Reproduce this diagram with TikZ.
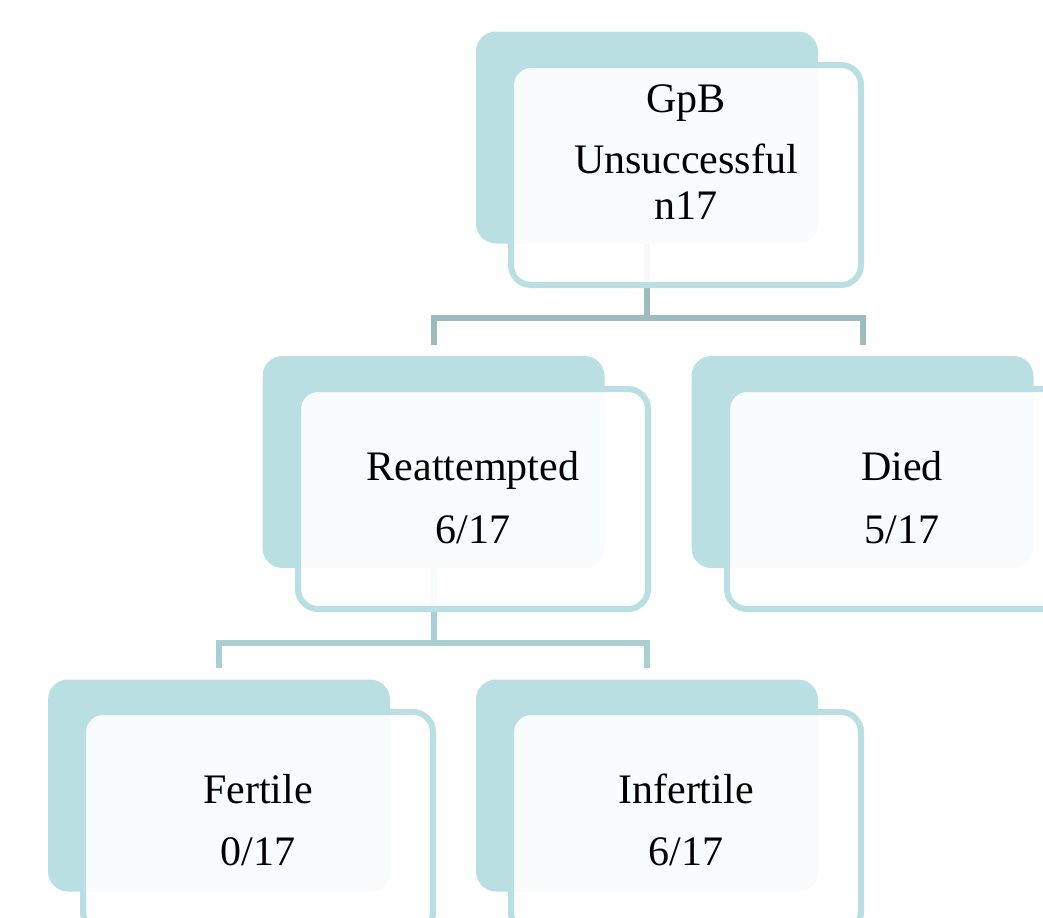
\documentclass[tikz,border=0pt]{standalone}
\usepackage{fontspec}
\setmainfont{Liberation Serif}
\usetikzlibrary{calc}
\definecolor{backc}{HTML}{B9DFE2}
\definecolor{linkA}{HTML}{9CBCBE}
\definecolor{linkB}{HTML}{A9CFD2}
\tikzset{
  backbox/.style={rectangle, rounded corners=10pt, fill=backc, draw=none, inner sep=0pt, minimum width=171pt, minimum height=106pt},
  frontbox/.style={rectangle, rounded corners=10pt, draw=backc, line width=3pt, fill=white, fill opacity=0.92, inner sep=0pt, minimum width=175pt, minimum height=110pt},
  lbl/.style={anchor=base, inner sep=0pt, font=\fontsize{21}{25}\selectfont, text=black},
  linkup/.style={draw=linkA, line width=3pt},
  linkdown/.style={draw=linkB, line width=3pt},
}
\begin{document}
\begin{tikzpicture}[x=0.5pt, y=-0.5pt]
\useasboundingbox (0,0) rectangle (1043,917);
\clip (0,0) rectangle (1043,917);
% back boxes (positions)
\node[backbox] (topB) at (647,137.5) {};
\node[backbox] (reB) at (433.5,462) {};
\node[backbox] (diB) at (862.5,462) {};
\node[backbox] (feB) at (219,785.5) {};
\node[backbox] (inB) at (647,785.5) {};
% connectors
\draw[linkup] (topB.south) -- ++(0,74) -| ([yshift=5.5pt]reB.north);
\draw[linkup] (topB.south) ++(0,74) -| ([yshift=5.5pt]diB.north);
\draw[linkdown] (reB.south) -- ++(0,75) -| ([yshift=5.5pt]feB.north);
\draw[linkdown] (reB.south) ++(0,75) -| ([yshift=5.5pt]inB.north);
% front boxes
\node[frontbox] (topF) at (686,175) {};
\node[frontbox] (reF) at (473,499) {};
\node[frontbox] (diF) at (902,499) {};
\node[frontbox] (feF) at (258,822) {};
\node[frontbox] (inF) at (686,822) {};
% texts
\node[lbl] (t1) at ($(topF.center)+(0,-63)$) {GpB};
\node[lbl] (t2) at ($(topF.center)+(0,-2)$) {Unsuccessful};
\node[lbl] (t3) at ($(topF.center)+(0,44)$) {n17};
\node[lbl] (r1) at ($(reF.center)+(0,-19)$) {Reattempted};
\node[lbl] (r2) at ($(reF.center)+(0,44)$) {6/17};
\node[lbl] (d1) at ($(diF.center)+(0,-19)$) {Died};
\node[lbl] (d2) at ($(diF.center)+(0,44)$) {5/17};
\node[lbl] (f1) at ($(feF.center)+(0,-19)$) {Fertile};
\node[lbl] (f2) at ($(feF.center)+(0,43)$) {0/17};
\node[lbl] (i1) at ($(inF.center)+(0,-19)$) {Infertile};
\node[lbl] (i2) at ($(inF.center)+(0,43)$) {6/17};
\end{tikzpicture}
\end{document}
